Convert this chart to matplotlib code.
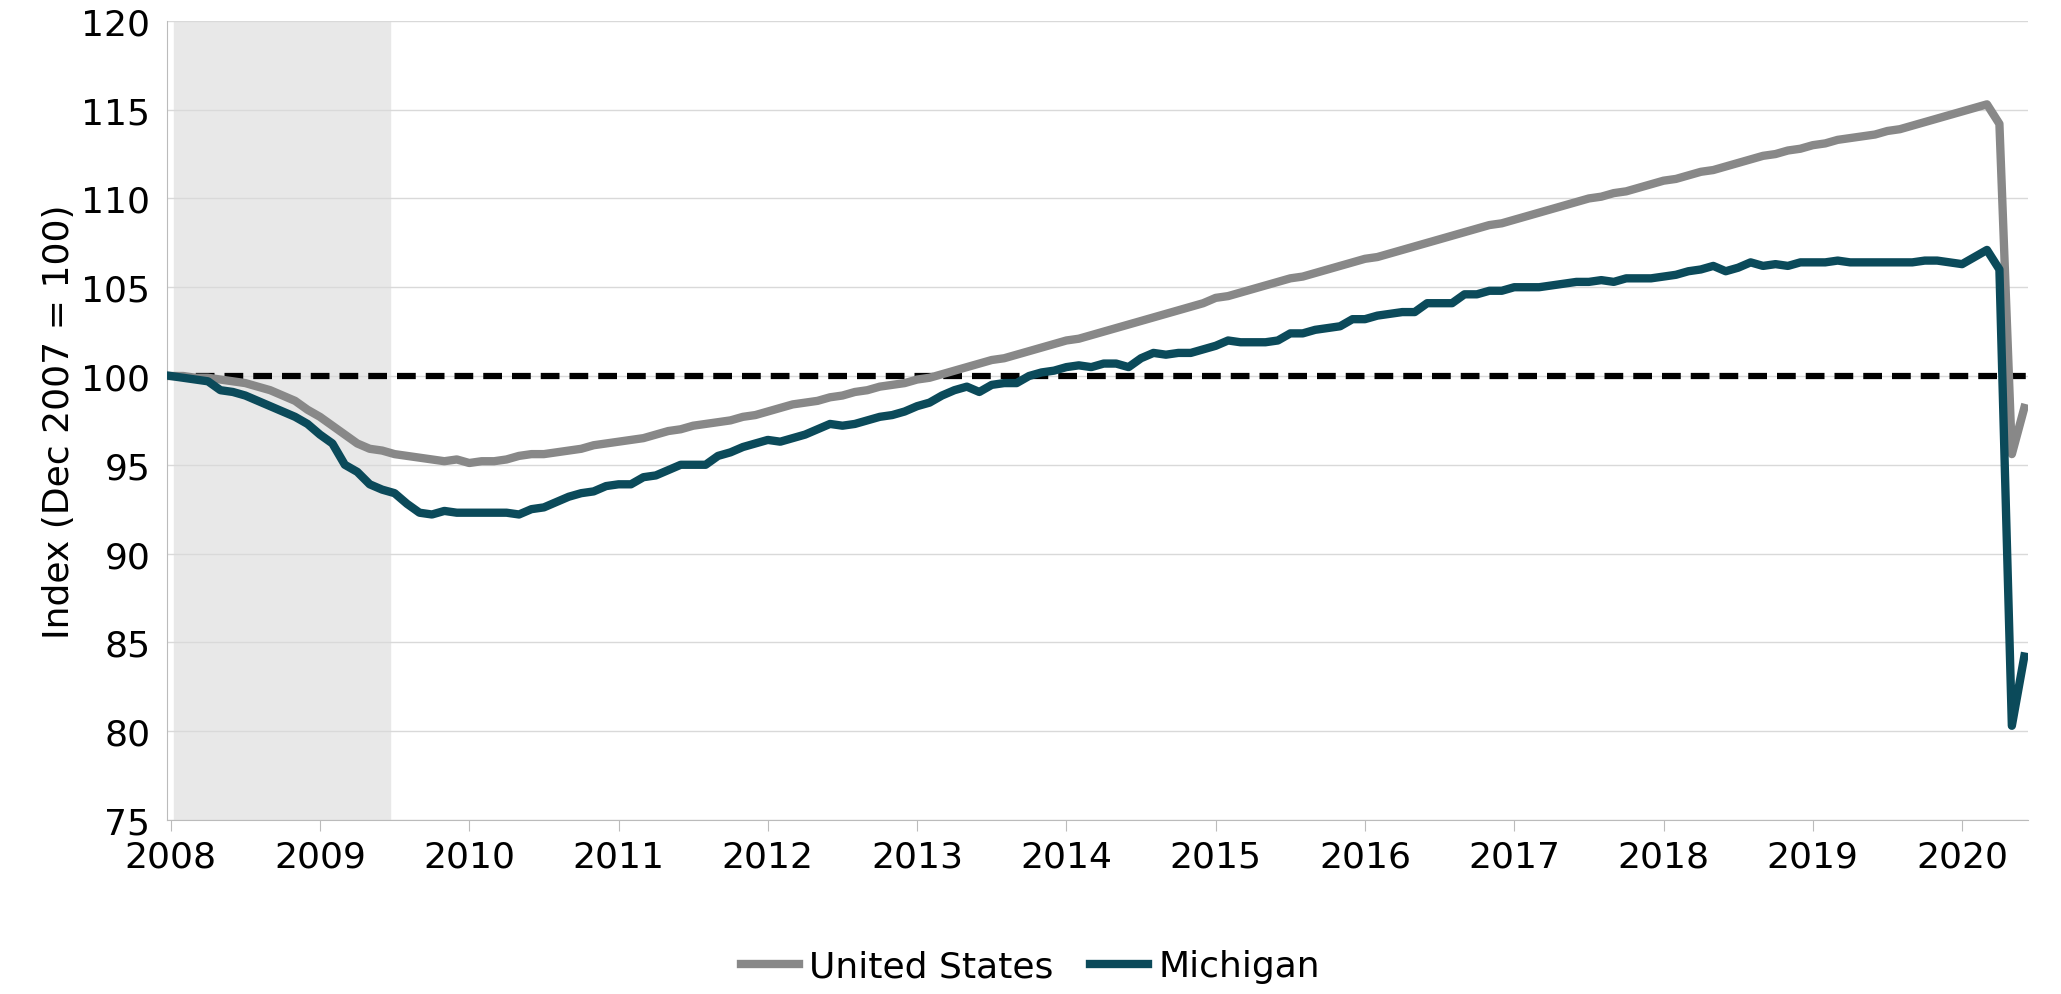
import matplotlib
matplotlib.use("Agg")
import matplotlib.pyplot as plt
import numpy as np

years = [str(y) for y in range(2008, 2021)]
us = [100.0,
 100.0,99.9,99.9,99.8,99.7,99.6,99.4,99.2,98.9,98.6,98.1,97.7,
 97.2,96.7,96.2,95.9,95.8,95.6,95.5,95.4,95.3,95.2,95.3,95.1,
 95.2,95.2,95.3,95.5,95.6,95.6,95.7,95.8,95.9,96.1,96.2,96.3,
 96.4,96.5,96.7,96.9,97.0,97.2,97.3,97.4,97.5,97.7,97.8,98.0,
 98.2,98.4,98.5,98.6,98.8,98.9,99.1,99.2,99.4,99.5,99.6,99.8,
 99.9,100.1,100.3,100.5,100.7,100.9,101.0,101.2,101.4,101.6,101.8,102.0,
 102.1,102.3,102.5,102.7,102.9,103.1,103.3,103.5,103.7,103.9,104.1,104.4,
 104.5,104.7,104.9,105.1,105.3,105.5,105.6,105.8,106.0,106.2,106.4,106.6,
 106.7,106.9,107.1,107.3,107.5,107.7,107.9,108.1,108.3,108.5,108.6,108.8,
 109.0,109.2,109.4,109.6,109.8,110.0,110.1,110.3,110.4,110.6,110.8,111.0,
 111.1,111.3,111.5,111.6,111.8,112.0,112.2,112.4,112.5,112.7,112.8,113.0,
 113.1,113.3,113.4,113.5,113.6,113.8,113.9,114.1,114.3,114.5,114.7,114.9,
 115.1,115.3,114.2,95.6,98.2]
mi = [100.0,
 99.9,99.8,99.7,99.2,99.1,98.9,98.6,98.3,98.0,97.7,97.3,96.7,
 96.2,95.0,94.6,93.9,93.6,93.4,92.8,92.3,92.2,92.4,92.3,92.3,
 92.3,92.3,92.3,92.2,92.5,92.6,92.9,93.2,93.4,93.5,93.8,93.9,
 93.9,94.3,94.4,94.7,95.0,95.0,95.0,95.5,95.7,96.0,96.2,96.4,
 96.3,96.5,96.7,97.0,97.3,97.2,97.3,97.5,97.7,97.8,98.0,98.3,
 98.5,98.9,99.2,99.4,99.1,99.5,99.6,99.6,100.0,100.2,100.3,100.5,
 100.6,100.5,100.7,100.7,100.5,101.0,101.3,101.2,101.3,101.3,101.5,101.7,
 102.0,101.9,101.9,101.9,102.0,102.4,102.4,102.6,102.7,102.8,103.2,103.2,
 103.4,103.5,103.6,103.6,104.1,104.1,104.1,104.6,104.6,104.8,104.8,105.0,
 105.0,105.0,105.1,105.2,105.3,105.3,105.4,105.3,105.5,105.5,105.5,105.6,
 105.7,105.9,106.0,106.2,105.9,106.1,106.4,106.2,106.3,106.2,106.4,106.4,
 106.4,106.5,106.4,106.4,106.4,106.4,106.4,106.4,106.5,106.5,106.4,106.3,
 106.7,107.1,106.0,80.3,84.2]

plt.rcParams['font.family'] = ['DejaVu Sans']
fig = plt.figure(figsize=(20.61, 9.95), dpi=100)
ax = fig.add_axes([0.081, 0.175, 0.903, 0.803])
x = np.arange(len(us))
ax.axvspan(0.3, 17.6, color='#e8e8e8', zorder=0)
ax.axhline(100, color='black', ls=(0, (3, 1.6)), lw=4.5, zorder=3)
ax.plot(x, us, color='#888888', lw=6, label='United States', zorder=4)
ax.plot(x, mi, color='#0b4a5a', lw=6, label='Michigan', zorder=5)
ax.set_ylim(75, 120)
ax.set_yticks(range(75, 121, 5))
ax.set_xlim(-0.3, 149.3)
ax.set_xticks(np.arange(0, 13) * 12)
ax.set_xticklabels(years)
ax.tick_params(axis='both', labelsize=26)
ax.tick_params(axis='y', length=0, pad=12)
ax.tick_params(axis='x', length=8, color='#bbbbbb', direction='out', pad=6)
ax.grid(axis='y', color='#d9d9d9', lw=1)
ax.set_axisbelow(True)
for s in ['top', 'right']:
    ax.spines[s].set_visible(False)
ax.spines['left'].set_color('#bbbbbb')
ax.spines['bottom'].set_color('#bbbbbb')
ax.set_ylabel('Index (Dec 2007 = 100)', fontsize=26)
fig.legend(loc='lower center', bbox_to_anchor=(0.5, -0.022), ncol=2, frameon=False,
           fontsize=26, handlelength=1.6, columnspacing=1.0, handletextpad=0.3)
fig.savefig('out.png', dpi=100)
